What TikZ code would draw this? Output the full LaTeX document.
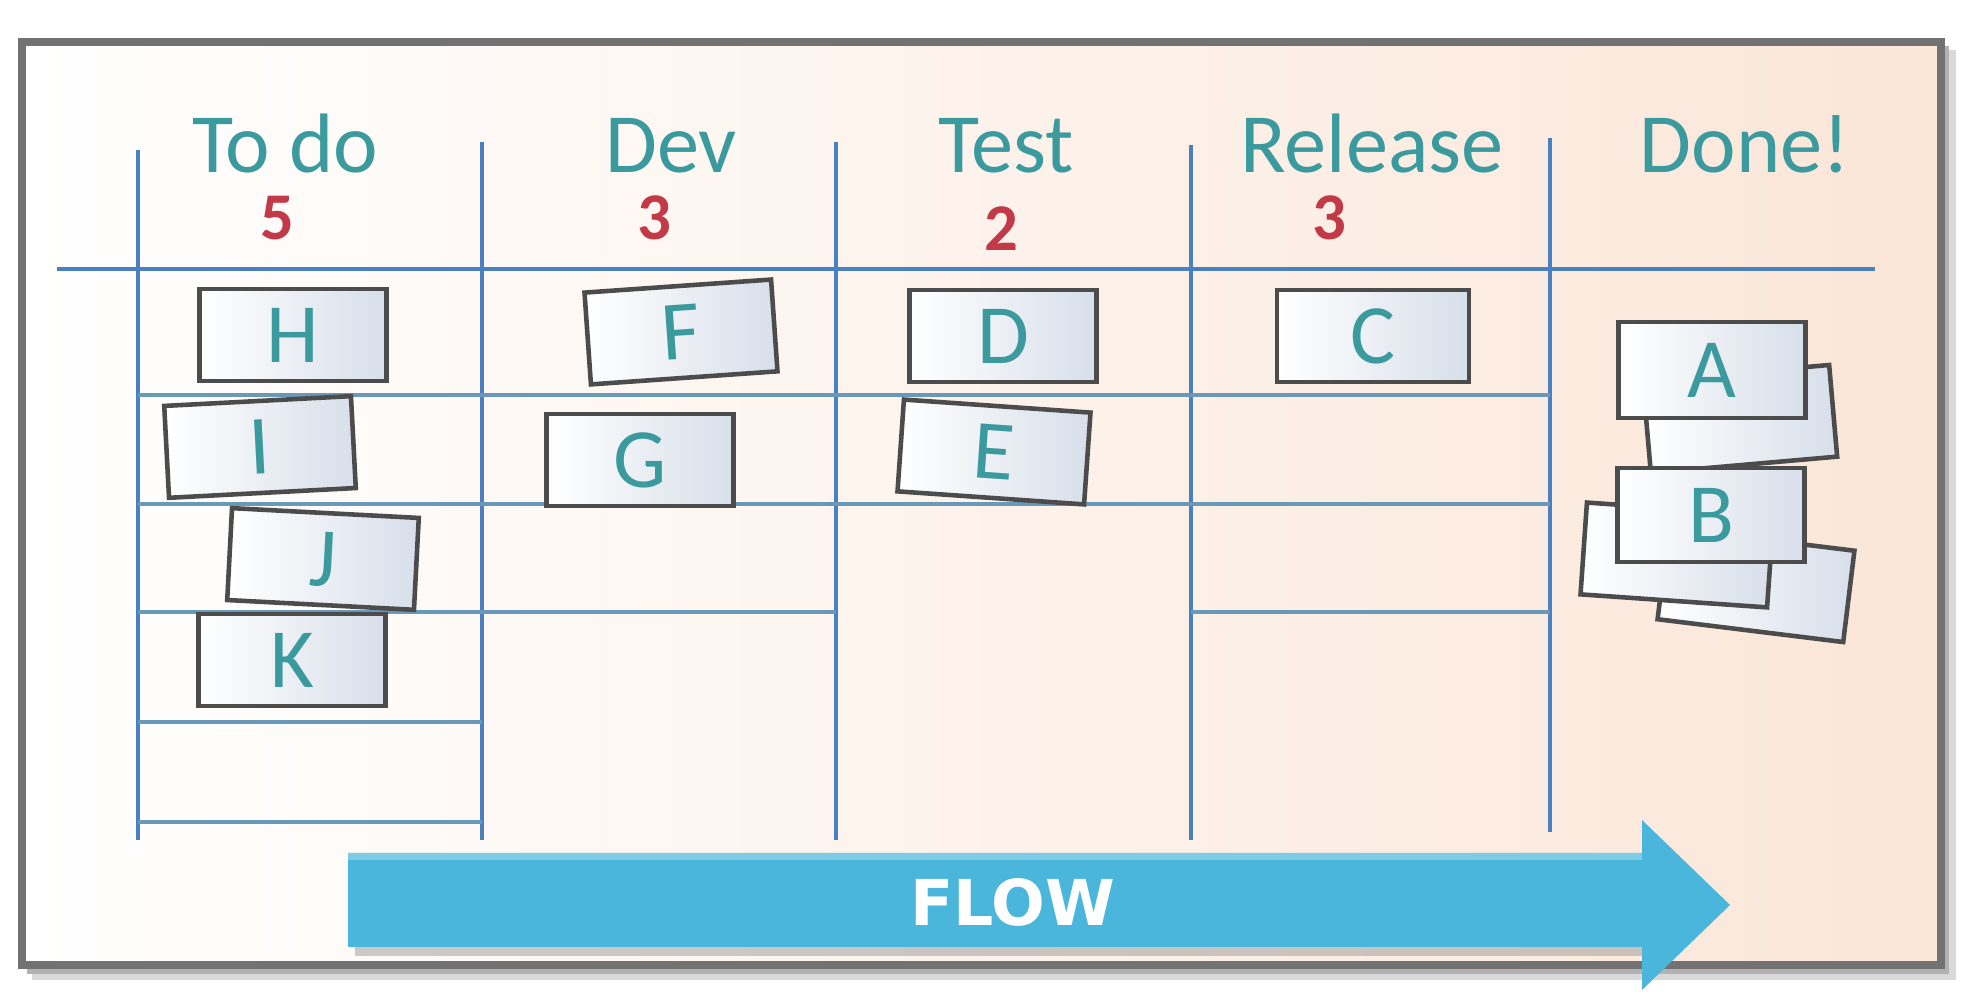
\documentclass[tikz,border=0pt]{standalone}
\usepackage{fontspec}
\setmainfont{Carlito}
\newfontfamily\flowfont{DejaVu Sans}
\definecolor{boardline}{HTML}{4A80C2}
\definecolor{rowline}{HTML}{6A98B8}
\definecolor{headteal}{HTML}{3A9A9E}
\definecolor{limitred}{HTML}{C23A48}
\definecolor{peach}{HTML}{FBE6D8}
\definecolor{cardedge}{HTML}{4C4C4C}
\definecolor{cardtint}{HTML}{D8DFEA}
\definecolor{flowblue}{HTML}{4AB6DC}
\definecolor{framegray}{HTML}{727272}

\begin{document}
\begin{tikzpicture}[
  colhead/.style={anchor=base, inner sep=0.5pt, text=headteal, font=\fontsize{24}{26}\selectfont},
  wiplimit/.style={anchor=base, inner sep=0.5pt, text=limitred, font=\bfseries\fontsize{19}{21}\selectfont},
  card/.style={draw=cardedge, line width=1.3pt, left color=white, right color=cardtint,
    minimum width=1.87cm, minimum height=0.92cm, inner sep=0pt, text=headteal,
    font=\fontsize{24}{26}\selectfont},
  colline/.style={boardline, line width=1.3pt},
  rowrule/.style={rowline, line width=0.9pt}]
  \useasboundingbox (0,0) rectangle (19.86,10);
  % board and its shadow
  \fill[black!15] (0.32,0.20) rectangle (19.56,9.50);
  \fill[black!30] (0.27,0.26) rectangle (19.49,9.54);
  \shade[left color=white, right color=peach] (0.22,0.35) rectangle (19.41,9.58);
  \draw[framegray, line width=2.2pt] (0.22,0.35) rectangle (19.41,9.58);
  % columns
  \draw[boardline, line width=1.4pt] (0.57,7.31) -- (18.75,7.31);
  \draw[colline] (1.38,8.50) -- (1.38,1.60);
  \draw[colline] (4.82,8.58) -- (4.82,1.60);
  \draw[colline] (8.36,8.58) -- (8.36,1.60);
  \draw[colline] (11.91,8.55) -- (11.91,1.60);
  \draw[colline] (15.50,8.62) -- (15.50,1.68);
  % rows (wip slots)
  \draw[rowrule] (1.38,6.05) -- (15.50,6.05);
  \draw[rowrule] (1.38,4.96) -- (15.50,4.96);
  \draw[rowrule] (1.38,3.88) -- (8.36,3.88);
  \draw[rowrule] (11.91,3.88) -- (15.50,3.88);
  \draw[rowrule] (1.38,2.78) -- (4.82,2.78);
  \draw[rowrule] (1.38,1.78) -- (4.82,1.78);
  % headers and limits
  \node[colhead] (todo) at (2.85,8.27) {To do};
  \node[colhead] (dev) at (6.71,8.27) {Dev};
  \node[colhead] (test) at (10.06,8.27) {Test};
  \node[colhead] (release) at (13.72,8.27) {Release};
  \node[colhead] (done) at (17.45,8.27) {Done!};
  \node[wiplimit] (todolim) at (2.77,7.60) {5};
  \node[wiplimit] (devlim) at (6.54,7.60) {3};
  \node[wiplimit] (testlim) at (10.01,7.49) {2};
  \node[wiplimit] (releaselim) at (13.29,7.60) {3};
  % cards
  \node[card] (cardH) at (2.93,6.65) {H};
  \node[card] (cardI) at (2.60,5.53) [rotate=3] {I};
  \node[card] (cardJ) at (3.23,4.41) [rotate=-3] {J};
  \node[card] (cardK) at (2.92,3.40) {K};
  \node[card] (cardF) at (6.81,6.68) [rotate=4] {F};
  \node[card] (cardG) at (6.40,5.40) {G};
  \node[card] (cardD) at (10.03,6.64) {D};
  \node[card] (cardE) at (9.94,5.48) [rotate=-4] {E};
  \node[card, minimum width=1.92cm] (cardC) at (13.73,6.64) {C};
  % done pile
  \node[card] (pileA) at (17.40,5.81) [rotate=5] {};
  \node[card, minimum height=0.96cm] (cardA) at (17.12,6.30) {A};
  \node[card] (pileB) at (17.56,4.15) [rotate=-7] {};
  \node[card] (pileC) at (16.77,4.45) [rotate=-4] {};
  \node[card, minimum height=0.94cm] (cardB) at (17.11,4.85) {B};
  % flow arrow
  \fill[black!40, opacity=.5] (3.55,0.44) rectangle (16.42,0.55);
  \fill[flowblue] (3.48,1.47) -- (16.42,1.47) -- (16.42,1.80) -- (17.30,0.95)
    -- (16.42,0.10) -- (16.42,0.53) -- (3.48,0.53) -- cycle;
  \fill[white, opacity=.3] (3.48,1.40) rectangle (16.42,1.47);
  \node[text=white, font=\flowfont\bfseries\fontsize{18}{20}\selectfont] (flow) at (10.13,0.98) {FLOW};
\end{tikzpicture}
\end{document}
